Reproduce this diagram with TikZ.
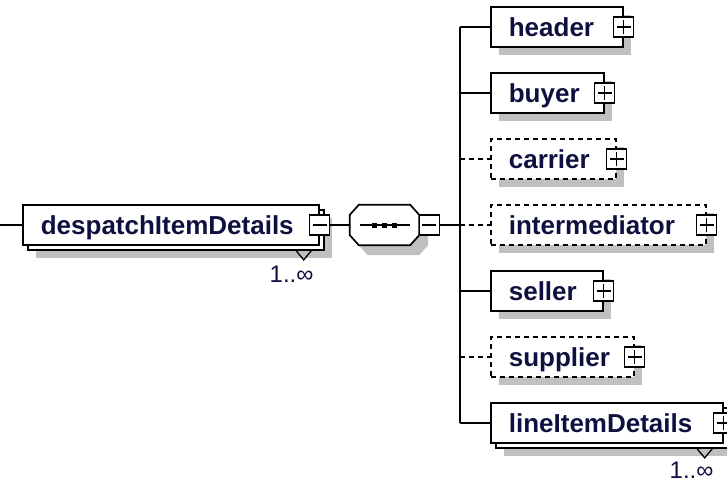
\documentclass[tikz,border=0pt]{standalone}
\usepackage{fontspec}
\setmainfont{Liberation Sans}
\usetikzlibrary{shadows,calc}
\definecolor{txt}{RGB}{16,16,64}
\definecolor{shd}{RGB}{192,192,192}
\tikzset{
  lw/.style={line width=1.7pt},
  box/.style={draw=black, lw, fill=white, rectangle, minimum height=40pt,
    inner ysep=0pt, inner xsep=18pt, anchor=west, align=left,
    text height=18.6pt, text depth=0pt,
    font=\fontsize{26}{30}\selectfont\bfseries, text=txt},
  elem/.style={box, general shadow={fill=shd, shadow xshift=8pt, shadow yshift=-8pt}},
  opt/.style={elem, dash pattern=on 5pt off 4pt},
  conn/.style={draw=black, lw},
  optconn/.style={conn, dash pattern=on 5pt off 4pt},
  pmbox/.style={draw=black, fill=white, line width=1.4pt, minimum size=20pt,
    inner sep=0pt, rectangle},
  plusbox/.style={pmbox, path picture={
    \draw[line width=1.4pt] ([xshift=-7pt]path picture bounding box.center) -- ([xshift=7pt]path picture bounding box.center)
      ([yshift=-7pt]path picture bounding box.center) -- ([yshift=7pt]path picture bounding box.center);}},
  minusbox/.style={pmbox, path picture={
    \draw[line width=1.4pt] ([xshift=-7pt]path picture bounding box.center) -- ([xshift=7pt]path picture bounding box.center);}},
  mult/.style={font=\fontsize{24}{28}\selectfont, text=txt, inner sep=0pt, anchor=base east},
  chev/.style={draw=black, line width=1.3pt},
  octshadow/.style={fill=shd},
  octbody/.style={lw, draw=black, fill=white},
}
\begin{document}
\begin{tikzpicture}[x=1pt, y=-1pt]
\useasboundingbox (0,0) rectangle (727,484);

% ---- root element (repeated) ----
\node[elem, minimum width=296pt, text width=260pt] (despback) at (27,230) {};
\node[box, minimum width=296pt, text width=260pt] (desp) at (22,225) {despatchItemDetails};
\node[minusbox] (despm) at (desp.east) {};
\draw[chev] ($(despback.south east)+(-28.5,0)$) -- ++(7.5,9) -- ++(7.5,-9);
\node[mult] (despmult) at ($(despback.south east)+(-11,32)$) {1..∞};
\coordinate (in) at (0,225);
\draw[conn] (in) -- (desp.west);

% ---- sequence compositor ----
\node[minimum width=69pt, minimum height=40pt, inner sep=0pt] (seq) at (384.5,225) {};
\foreach \ox/\oy/\st in {9/10/octshadow, 0/0/octbody}
  \path[\st] ($(seq.north west)+(9+\ox,\oy)$) -- ($(seq.north east)+(-9+\ox,\oy)$) -- ($(seq.north east)+(\ox,10+\oy)$)
  -- ($(seq.south east)+(\ox,-10+\oy)$) -- ($(seq.south east)+(-9+\ox,\oy)$) -- ($(seq.south west)+(9+\ox,\oy)$)
  -- ($(seq.south west)+(\ox,-10+\oy)$) -- ($(seq.north west)+(\ox,10+\oy)$) -- cycle;
\draw[lw] ($(seq.west)+(10,0)$) -- ($(seq.east)+(-9,0)$);
\foreach \dx in {-10,0,10} \fill ($(seq.center)+(\dx-2.5,-2.5)$) rectangle ++(5,5);
\node[minusbox] (seqm) at ($(seq.east)+(10,0)$) {};
\draw[conn] (despm.east) -- (seq.west);

% ---- children ----
\node[elem, minimum width=132pt, text width=96pt]  (header) at (490,27) {header};
\node[plusbox] (headerp) at (header.east) {};
\node[elem, minimum width=113pt, text width=77pt]  (buyer) at (490,93) {buyer};
\node[plusbox] (buyerp) at (buyer.east) {};
\node[opt,  minimum width=125pt, text width=89pt]  (carrier) at (490,159) {carrier};
\node[plusbox] (carrierp) at (carrier.east) {};
\node[opt,  minimum width=215pt, text width=179pt] (interm) at (490,225) {intermediator};
\node[plusbox] (intermp) at (interm.east) {};
\node[elem, minimum width=112pt, text width=76pt]  (seller) at (490,291) {seller};
\node[plusbox] (sellerp) at (seller.east) {};
\node[opt,  minimum width=143pt, text width=107pt] (supplier) at (490,357) {supplier};
\node[plusbox] (supplierp) at (supplier.east) {};
\node[elem, minimum width=232pt, text width=196pt] (lineback) at (495,428) {};
\node[box,  minimum width=232pt, text width=196pt] (line) at (490,423) {lineItemDetails};
\node[plusbox] (linep) at (line.east) {};
\draw[chev] ($(lineback.south east)+(-31.5,0)$) -- ++(7.5,9) -- ++(7.5,-9);
\node[mult] (linemult) at ($(lineback.south east)+(-15,30)$) {1..∞};

% ---- connectors ----
\coordinate (tj) at (460,225);
\draw[conn] (seqm.east) -- (tj);
\draw[conn] (tj |- header.west) -- (tj |- line.west);
\draw[conn] (tj |- header.west) -- (header.west);
\draw[conn] (tj |- buyer.west) -- (buyer.west);
\draw[optconn] (tj |- carrier.west) -- (carrier.west);
\draw[optconn] (tj |- interm.west) -- (interm.west);
\draw[conn] (tj |- seller.west) -- (seller.west);
\draw[optconn] (tj |- supplier.west) -- (supplier.west);
\draw[conn] (tj |- line.west) -- (line.west);
\end{tikzpicture}
\end{document}
